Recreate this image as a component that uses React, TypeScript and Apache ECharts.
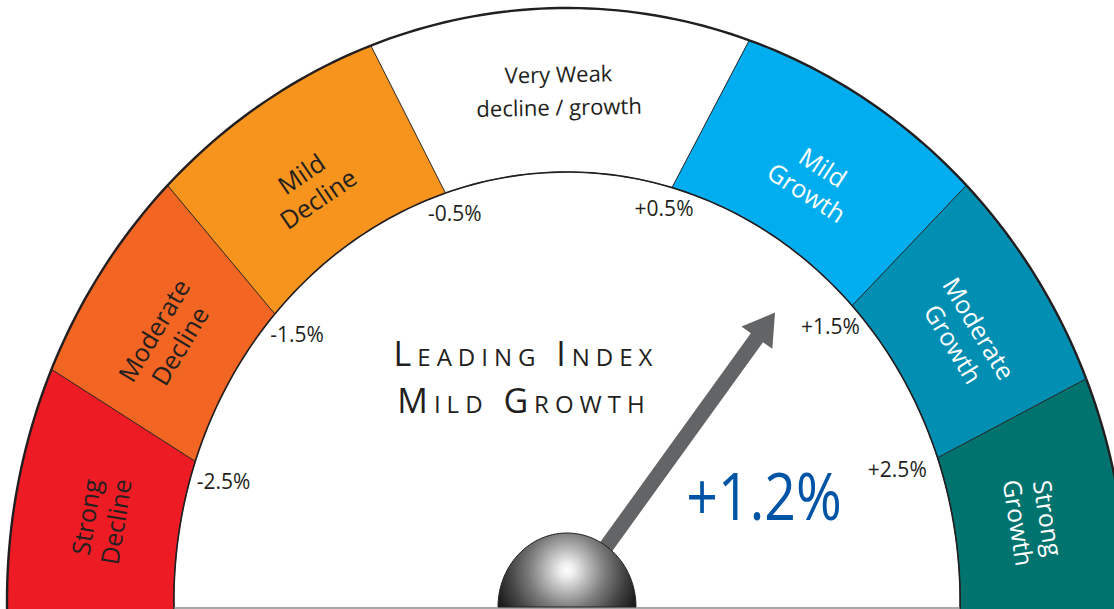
import React, { useEffect, useRef } from 'react';
import * as echarts from 'echarts';

// ---------------- data ----------------
const bandLabels = [
  'Strong\nDecline',
  'Moderate\nDecline',
  'Mild\nDecline',
  'Very Weak\ndecline / growth',
  'Mild\nGrowth',
  'Moderate\nGrowth',
  'Strong\nGrowth',
];
const bandColors = ['#ED1C24', '#F26522', '#F7941D', '#FFFFFF', '#00AEEF', '#008FB3', '#00736F'];
const bandTextColors = ['#231F20', '#231F20', '#231F20', '#231F20', '#FFFFFF', '#FFFFFF', '#FFFFFF'];
const tickValues = [-2.5, -1.5, -0.5, 0.5, 1.5, 2.5];
const tickLabels = ['-2.5%', '-1.5%', '-0.5%', '+0.5%', '+1.5%', '+2.5%'];
// dial angle (deg, 0 = right end, 180 = left end) where each boundary meets the inner / outer rim
const tickInnerAngles = [161, 138, 108, 74.5, 43.5, 19.5];
const tickOuterAngles = [157, 135.5, 110.5, 71, 44.5, 22];
const dialEnds = [182, -2];
const indexValue = 1.2;
const indexName = 'Leading Index';

// ---------------- layout / style ----------------
const W = 1114;
const H = 609;
const CX = 567; // pivot, px
const CY = 601;
const UX = 560; // px per dial unit, horizontal
const UY = 593; // px per dial unit, vertical
const R_OUT = [1, 1];
const R_IN = [0.702, 0.7234];
const R_LABEL = [0.845, 0.835];
const R_LABEL_NEUTRAL = [0.845, 0.862];
const NEEDLE_R = 0.612;
const SHAFT = 7.5;
const HEAD_LEN = 31;
const HEAD_W = 19;
const BALL_R = [69 / UX, 74 / UY];
const BALL_CY = -6 / UY;
const TICK_NUDGE = [
  [0, 0],
  [0, 0],
  [0, 0],
  [0, 0],
  [0, 0],
  [-12, -9],
];
const INK = '#231F20';
const FONT = "'Open Sans', 'Noto Sans', sans-serif";
const TITLE_FONT = "small-caps 34px 'Open Sans'; letter-spacing: 6px";

const rad = (d: number) => (d * Math.PI) / 180;
const ringPoint = (api: any, r: number[], deg: number) =>
  api.coord([r[0] * Math.cos(rad(deg)), r[1] * Math.sin(rad(deg))]);
const arc = (api: any, r: number[], a0: number, a1: number) => {
  const n = Math.max(8, Math.ceil(Math.abs(a1 - a0)));
  const pts: number[][] = [];
  for (let k = 0; k <= n; k++) pts.push(ringPoint(api, r, a0 + ((a1 - a0) * k) / n));
  return pts;
};

const outerEdges = [dialEnds[0], ...tickOuterAngles, dialEnds[1]];
const innerEdges = [dialEnds[0], ...tickInnerAngles, dialEnds[1]];
const tickMid = tickValues.map((_, i) => (tickInnerAngles[i] + tickOuterAngles[i]) / 2);

function valueToAngle(v: number) {
  const n = tickValues.length;
  let i = 0;
  while (i < n - 2 && v > tickValues[i + 1]) i++;
  const f = (v - tickValues[i]) / (tickValues[i + 1] - tickValues[i]);
  const a = tickMid[i] + f * (tickMid[i + 1] - tickMid[i]);
  return Math.max(dialEnds[1], Math.min(dialEnds[0], a));
}
const bandOf = (v: number) => tickValues.filter((t) => t <= v).length;

const renderBand = (params: any, api: any) => {
  const i = params.dataIndex;
  const outer = arc(api, R_OUT, outerEdges[i], outerEdges[i + 1]);
  const inner = arc(api, R_IN, innerEdges[i], innerEdges[i + 1]);
  const poly = outer.concat(inner.slice().reverse());
  const mid = ((outerEdges[i] + innerEdges[i]) / 2 + (outerEdges[i + 1] + innerEdges[i + 1]) / 2) / 2;
  const neutral = i > 0 && i < tickValues.length && tickValues[i - 1] < 0 && tickValues[i] > 0;
  const rl = neutral ? R_LABEL_NEUTRAL : R_LABEL;
  const pos = ringPoint(api, rl, mid);
  const pa = ringPoint(api, rl, mid - 0.5);
  const pb = ringPoint(api, rl, mid + 0.5);
  const rot = Math.atan2(-(pa[1] - pb[1]), pa[0] - pb[0]);
  return {
    type: 'group',
    children: [
      { type: 'polygon', shape: { points: poly }, style: { fill: bandColors[i], stroke: INK, lineWidth: 0.8 } },
      { type: 'polyline', shape: { points: outer }, style: { fill: 'none', stroke: INK, lineWidth: 2.4 } },
      { type: 'polyline', shape: { points: inner }, style: { fill: 'none', stroke: INK, lineWidth: 1.6 } },
      {
        type: 'text',
        x: pos[0],
        y: pos[1],
        rotation: rot,
        style: {
          text: bandLabels[i],
          fill: bandTextColors[i],
          fontSize: neutral ? 22 : 25,
          fontFamily: FONT,
          lineHeight: neutral ? 33 : 30,
          textAlign: 'center',
          textVerticalAlign: 'middle',
          align: 'center',
          verticalAlign: 'middle',
        },
      },
    ],
  };
};

const renderTick = (params: any, api: any) => {
  const i = params.dataIndex;
  const a = tickInnerAngles[i];
  const p = ringPoint(api, R_IN, a);
  return {
    type: 'text',
    x: p[0] - Math.cos(rad(a)) * 30 + TICK_NUDGE[i][0],
    y: p[1] + 20 + TICK_NUDGE[i][1],
    style: {
      text: tickLabels[i],
      fill: INK,
      fontSize: 21,
      fontFamily: FONT,
      textAlign: 'center',
      textVerticalAlign: 'middle',
      align: 'center',
      verticalAlign: 'middle',
    },
  };
};

const renderNeedle = (params: any, api: any) => {
  const v = api.value(0);
  const ang = valueToAngle(v);
  const p0 = api.coord([0, 0]);
  const tip = ringPoint(api, [NEEDLE_R, NEEDLE_R], ang);
  let ux = tip[0] - p0[0];
  let uy = tip[1] - p0[1];
  const L = Math.hypot(ux, uy);
  ux /= L;
  uy /= L;
  const nx = -uy;
  const ny = ux;
  const bx = tip[0] - ux * HEAD_LEN;
  const by = tip[1] - uy * HEAD_LEN;
  const needle = [
    [p0[0] + nx * SHAFT, p0[1] + ny * SHAFT],
    [bx + nx * SHAFT, by + ny * SHAFT],
    [bx + nx * HEAD_W, by + ny * HEAD_W],
    tip,
    [bx - nx * HEAD_W, by - ny * HEAD_W],
    [bx - nx * SHAFT, by - ny * SHAFT],
    [p0[0] - nx * SHAFT, p0[1] - ny * SHAFT],
  ];
  const ball: number[][] = [];
  for (let d = 180; d >= 0; d -= 3) {
    ball.push(api.coord([BALL_R[0] * Math.cos(rad(d)), BALL_CY + BALL_R[1] * Math.sin(rad(d))]));
  }
  const bc = api.coord([0, BALL_CY]);
  const bt = api.coord([0, BALL_CY + BALL_R[1]]);
  const hy = (bc[1] + bt[1]) / 2;
  const grad = new echarts.graphic.RadialGradient(
    bc[0],
    hy,
    76,
    [
      { offset: 0, color: '#ffffff' },
      { offset: 0.1, color: '#ececec' },
      { offset: 0.3, color: '#b3b3b3' },
      { offset: 0.5, color: '#7c7c7c' },
      { offset: 0.75, color: '#454545' },
      { offset: 0.92, color: '#262626' },
      { offset: 1, color: '#1a1a1a' },
    ],
    true
  );
  const bl = api.coord([-R_IN[0], -7 / UY]);
  const br = api.coord([R_IN[0], -7 / UY]);
  return {
    type: 'group',
    children: [
      { type: 'line', shape: { x1: bl[0], y1: bl[1], x2: br[0], y2: br[1] }, style: { stroke: '#8a8a8a', lineWidth: 1.5 } },
      { type: 'polygon', shape: { points: needle }, style: { fill: '#636466', stroke: 'none' } },
      { type: 'polygon', shape: { points: ball }, style: { fill: grad, stroke: INK, lineWidth: 1 } },
    ],
  };
};

function buildOption() {
  const band = bandOf(indexValue);
  const sign = indexValue > 0 ? '+' : '';
  return {
    animation: false,
    grid: { left: 0, right: 0, top: 0, bottom: 0, containLabel: false },
    xAxis: { type: 'value', min: -CX / UX, max: (W - CX) / UX, show: false },
    yAxis: { type: 'value', min: -(H - CY) / UY, max: CY / UY, show: false },
    series: [
      {
        type: 'custom',
        name: 'bands',
        coordinateSystem: 'cartesian2d',
        silent: true,
        clip: false,
        data: bandLabels.map((_, i) => [i, i]),
        renderItem: renderBand,
      },
      {
        type: 'custom',
        name: 'ticks',
        coordinateSystem: 'cartesian2d',
        silent: true,
        clip: false,
        data: tickValues.map((v, i) => [v, i]),
        renderItem: renderTick,
      },
      {
        type: 'custom',
        name: 'needle',
        coordinateSystem: 'cartesian2d',
        silent: true,
        clip: false,
        data: [[indexValue, 0]],
        renderItem: renderNeedle,
      },
    ],
    graphic: [
      {
        type: 'text',
        x: 526,
        y: 353,
        style: {
          text: indexName,
          font: TITLE_FONT,
          fill: INK,
          textAlign: 'center',
          textVerticalAlign: 'middle',
        },
      },
      {
        type: 'text',
        x: 524,
        y: 400,
        style: {
          text: bandLabels[band].replace('\n', ' '),
          font: TITLE_FONT,
          fill: INK,
          textAlign: 'center',
          textVerticalAlign: 'middle',
        },
      },
      {
        type: 'text',
        x: 764,
        y: 495,
        scaleX: 0.84,
        style: {
          text: sign + indexValue.toFixed(1) + '%',
          fontSize: 66,
          fontFamily: FONT,
          fill: '#0054A6',
          textAlign: 'center',
          textVerticalAlign: 'middle',
        },
      },
    ],
  };
}

export default function App() {
  const ref = useRef<HTMLDivElement>(null);
  useEffect(() => {
    document.body.style.margin = '0';
    const chart = echarts.init(ref.current as HTMLDivElement, null, { renderer: 'svg' });
    chart.setOption(buildOption() as any);
    return () => chart.dispose();
  }, []);
  return <div ref={ref} style={{ width: W, height: H }} />;
}
